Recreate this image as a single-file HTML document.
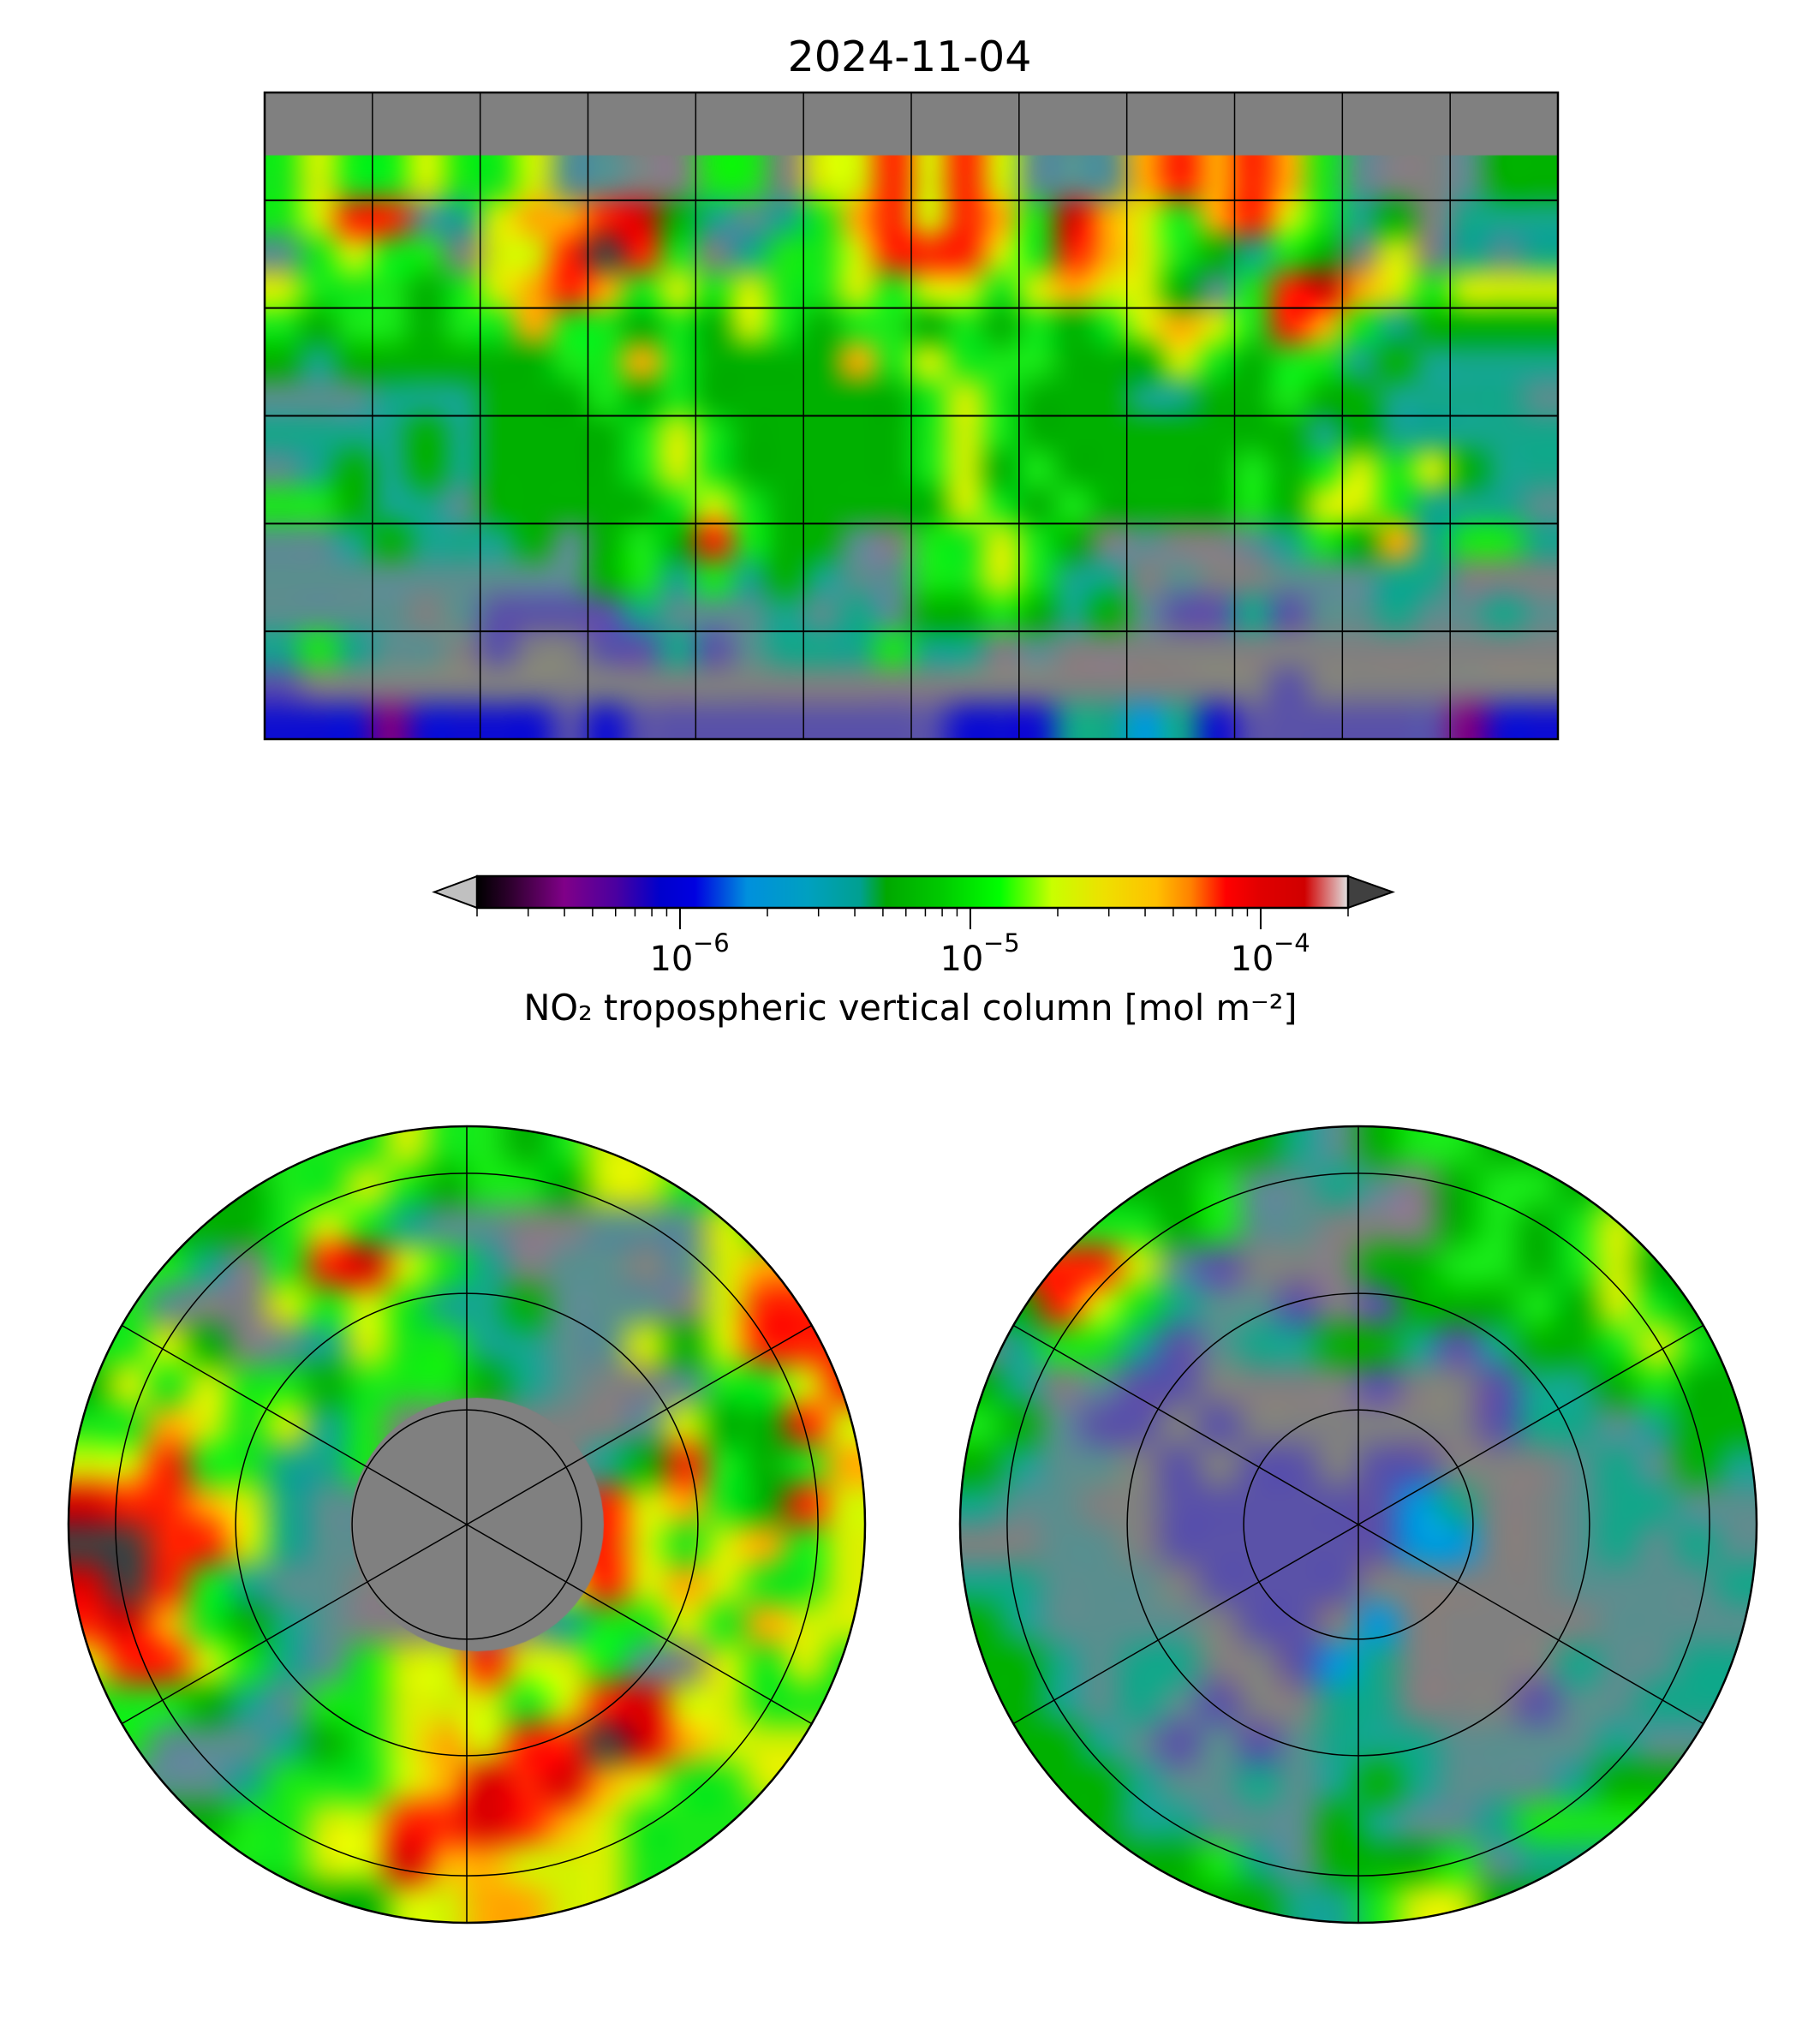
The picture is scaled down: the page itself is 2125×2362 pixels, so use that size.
<!DOCTYPE html>
<html><head><meta charset="utf-8"><style>
html,body{margin:0;padding:0;background:#fff;}
#root{position:relative;width:2125px;height:2362px;overflow:hidden;background:#fff;font-family:"DejaVu Sans","Liberation Sans",sans-serif;}
canvas{position:absolute;}
svg{position:absolute;left:0;top:0;}
</style></head><body>
<div id="root">
<canvas id="world" style="left:309px;top:108px" width="1510" height="755"></canvas>
<canvas id="north" style="left:80px;top:1315px" width="930" height="930"></canvas>
<canvas id="south" style="left:1121px;top:1315px" width="930" height="930"></canvas>
<svg id="ov" width="2125" height="2362"></svg>
</div>
<script>
// ---- data ----
const worldGrid = [
"GGGGGGGGGGGGGGGGGGGGGGGGGGGGGGGGGGGG",
"lyllyllymmGGllGyyryrymmmororolmGGmgg",
"lyllyllymmGGllGyyryrymmmororolmGGmgg",
"lyrrmtyoorRgtmtloryrolRoyloryltgGttt",
"mlyllGyyrDrlGtllyrrrylroylgtlgGyGtmt",
"ylllglyorolylyllylyylyoyygmlrRoylyyy",
"lgllgllollglgylgllglglglyoylroltgggg",
"gtggggggllolggggolylllgggylglltgtttt",
"mmmtttggglglgggggglylgggttgglggttttm",
"ttttgtgggglylggggglylggggggggtgttttt",
"mtgtgtgggglylggggglyglggggglglylygtt",
"llgttmggggglylgggggylglgggglgyyltttm",
"mmtgtttgmglgrlggmGllylgGmGGmtlgotllt",
"mmmmmmmmmgltltgtmmllylttGmGGmmmttGGG",
"mmmmGmnnnntmmmtmtmgglgtgmnntnmmtmmtm",
"tltmmGnGGnntnmtttlttGmGGGGGGGGGGGGGG",
"nGGGGGGGGGGGGGGGGGGGGGGGGGGGnGGGGGGG",
"bbbkbbbbnbnnnnnnnnnbbbttctbnnnnnnkbb"
];
const northGrid = [
"llllllllyllglyyyyyyy",
"gggggllylgllgyylllll",
"ggggglyltmmGGmmmylll",
"llltGlrRyltGmmGmyooo",
"llmGGylylttgmmmGyrrr",
"llygGmtyllttmmygyrrr",
"gylyllglllgtmGGmllyr",
"lloylytlGGGGGGmyggry",
"yyrllttlGGGGGtgrlglo",
"RrroytmmGGGGmryolgry",
"DDrrytmmGGGGrrylyoly",
"RDrltmmGGGGGyryoylly",
"rRolgtmGGGGGtllyloyy",
"yrryltmlyyryylmGylyl",
"lllgtmllyyylyrRyylll",
"llmmmtglyoyrrDRoyyyy",
"mmmmtlllyoRrRoyllyyy",
"ggggllyyrrRroyllllll",
"llllllyyRooyyyllllll",
"ggggggggyyooyyllllll"
];
const southGrid = [
"ggggggggtmgllggggggg",
"gggggglmmtmGgllgllll",
"lllllglmmGGGglglylll",
"rrrrymnGGGggllglyggg",
"ggryltmmnGnggglgylgg",
"Gtlltnmttggtntgglylg",
"gtGmnnGGGGnGGnttglgg",
"lgmnnGnGGGGGGnttmtgg",
"gtmmGnGnnGnnGGGmtmgt",
"tmmGGnnnnnnctGGmttmm",
"GGmmGnnnnnnccGGmtmtm",
"ttmmmGnnnnGGGGGmmmmt",
"gtmmmmGnnGcGGGGGmmmm",
"ggtmttGGnctGGGGtmmtt",
"ggtmtmnGGttGGGnmmttt",
"gggtmnmnmtttmmmmtmmm",
"ggggtmmtmtgtmmmtgggg",
"ggggttmmmgtmmtllllll",
"ggggggltmggglmtttttt",
"ggggggggttlyyggggggg"
];
const cbarMajor = [1e-6, 1e-5, 1e-4];
const cbarMajorLabels = ["−6", "−5", "−4"];
const cbarVmin = 2e-7;
const cbarVmax = 2e-4;
const meridians = [-150,-120,-90,-60,-30,0,30,60,90,120,150];
const parallels = [60,30,0,-30,-60];
const noDataLatTop = 72.5;
const polarLatCircles = [80,70,60];
const polarEdgeLat = 56.2;

const palette = {G:'#808080',D:'#404040',k:'#800080',b:'#1010d0',c:'#0099dd',t:'#14a68a',m:'#5a8e8e',n:'#5a52a8',g:'#00b000',l:'#18e818',y:'#d4f000',o:'#ffaa00',r:'#ff2000',R:'#d80000'};

function hex(h){return [parseInt(h.substr(1,2),16),parseInt(h.substr(3,2),16),parseInt(h.substr(5,2),16)];}
function fieldCanvas(grid){
  const rows=grid.length, cols=grid[0].length;
  const c=document.createElement('canvas'); c.width=cols; c.height=rows;
  const x=c.getContext('2d'); const im=x.createImageData(cols,rows);
  grid.forEach((r,j)=>{for(let i=0;i<cols;i++){const ch=r[i]||r[r.length-1];const v=hex(palette[ch]||'#808080');const k=(j*cols+i)*4;im.data[k]=v[0];im.data[k+1]=v[1];im.data[k+2]=v[2];im.data[k+3]=255;}});
  x.putImageData(im,0,0); return c;
}
(function(){
  const cv=document.getElementById('world'), ctx=cv.getContext('2d');
  ctx.imageSmoothingEnabled=true; ctx.imageSmoothingQuality='high';
  const f=fieldCanvas(worldGrid);
  ctx.drawImage(f,0,0,f.width,f.height,0,0,cv.width,cv.height);
  const latY=lat=>(90-lat)/180*cv.height;
  ctx.fillStyle='#808080'; ctx.fillRect(0,0,cv.width,latY(noDataLatTop));
})();
function polar(id,grid,disk){
  const cv=document.getElementById(id), ctx=cv.getContext('2d');
  ctx.save(); ctx.beginPath(); ctx.arc(465,465,465,0,Math.PI*2); ctx.clip();
  ctx.imageSmoothingEnabled=true; ctx.imageSmoothingQuality='high';
  const f=fieldCanvas(grid); ctx.drawImage(f,0,0,f.width,f.height,0,0,930,930);
  if(disk){ctx.fillStyle='#808080';ctx.beginPath();ctx.arc(477,465,148,0,Math.PI*2);ctx.fill();}
  ctx.restore();
}
polar('north',northGrid,true);
polar('south',southGrid,false);

const NS='http://www.w3.org/2000/svg', svg=document.getElementById('ov');
function el(t,a,txt){const e=document.createElementNS(NS,t);for(const k in a)e.setAttribute(k,a[k]);if(txt!==undefined)e.textContent=txt;svg.appendChild(e);return e;}
const mx=309,my=108,mw=1510,mh=755;
const lonX=l=>mx+(l+180)/360*mw, latY=l=>my+(90-l)/180*mh;
meridians.forEach(l=>{const e=el('line',{x1:lonX(l),x2:lonX(l),y1:my,y2:my+mh,stroke:'#000','stroke-width':1.5});

});
parallels.forEach(l=>{const e=el('line',{x1:mx,x2:mx+mw,y1:latY(l),y2:latY(l),stroke:'#000','stroke-width':2});

});
const fr=el('rect',{x:mx,y:my,width:mw,height:mh,fill:'none',stroke:'#000','stroke-width':2.5});


const tt=el('text',{x:1062,y:83,'text-anchor':'middle','font-size':49,fill:'#000'},'2024-11-04');



const polarR=465;
const st=lat=>Math.tan((90-lat)*Math.PI/360);
const latR=lat=>polarR*st(lat)/st(polarEdgeLat);
[[545,'north'],[1586,'south']].forEach(([cx,nm])=>{
  const cy=1780;
  polarLatCircles.forEach(l=>{const e=el('circle',{cx:cx,cy:cy,r:latR(l),fill:'none',stroke:'#000','stroke-width':1.5});
  
  });
  [90,30,150].forEach(a=>{const r=a*Math.PI/180;const e=el('line',{x1:cx-polarR*Math.cos(r),y1:cy-polarR*Math.sin(r),x2:cx+polarR*Math.cos(r),y2:cy+polarR*Math.sin(r),stroke:'#000','stroke-width':1.5});
  
  });
  const b=el('circle',{cx:cx,cy:cy,r:polarR,fill:'none',stroke:'#000','stroke-width':2.5});
  
  
});

const cx0=557,cx1=1574,cy0=1023,cy1=1060;
const lg=Math.log10, cbX=v=>cx0+(lg(v)-lg(cbarVmin))/(lg(cbarVmax)-lg(cbarVmin))*(cx1-cx0);
const defs=el('defs',{});
const grad=document.createElementNS(NS,'linearGradient');grad.setAttribute('id','cg');defs.appendChild(grad);
[[0,'#000000'],[0.04,'#300030'],[0.1,'#800088'],[0.16,'#4a00a0'],[0.21,'#0000cc'],[0.25,'#0000e0'],[0.31,'#0090dd'],[0.38,'#00a0c0'],[0.44,'#00a090'],[0.47,'#00a800'],[0.53,'#00c800'],[0.6,'#00ff00'],[0.66,'#c8ff00'],[0.72,'#eee000'],[0.78,'#ffc000'],[0.82,'#ff8000'],[0.86,'#ff0000'],[0.9,'#e00000'],[0.95,'#d00000'],[1,'#e0e0e0']].forEach(([o,c])=>{const s=document.createElementNS(NS,'stop');s.setAttribute('offset',o);s.setAttribute('stop-color',c);grad.appendChild(s);});
const lt=el('polygon',{points:`${cx0},${cy0} ${cx0},${cy1} 507,${(cy0+cy1)/2}`,fill:'#c0c0c0',stroke:'#000','stroke-width':2});


const rt=el('polygon',{points:`${cx1},${cy0} ${cx1},${cy1} 1626,${(cy0+cy1)/2}`,fill:'#404040',stroke:'#000','stroke-width':2});


const cb=el('rect',{x:cx0,y:cy0,width:cx1-cx0,height:cy1-cy0,fill:'url(#cg)',stroke:'#000','stroke-width':2.5});


for(let e=-7;e<=-4;e++){for(let m=2;m<=9;m++){const v=m*Math.pow(10,e);if(v<cbarVmin*0.999||v>cbarVmax*1.001)continue;
  const t=el('line',{x1:cbX(v),x2:cbX(v),y1:cy1,y2:cy1+10,stroke:'#000','stroke-width':1.5});
  
  }}
cbarMajor.forEach((v,i)=>{const x=cbX(v);
  const t=el('line',{x1:x,x2:x,y1:cy1,y2:cy1+25,stroke:'#000','stroke-width':2});
  
  
  const tx=el('text',{x:x-10,y:1133,'text-anchor':'middle','font-size':40,fill:'#000'},'10');
  
  
  const sp=el('text',{x:x+15,y:1111,'text-anchor':'start','font-size':29,fill:'#000'},cbarMajorLabels[i]);
  
  
});
const cl=el('text',{x:1063,y:1191,'text-anchor':'middle','font-size':41.5,fill:'#000'},'NO₂ tropospheric vertical column [mol m⁻²]');


</script>
</body></html>
